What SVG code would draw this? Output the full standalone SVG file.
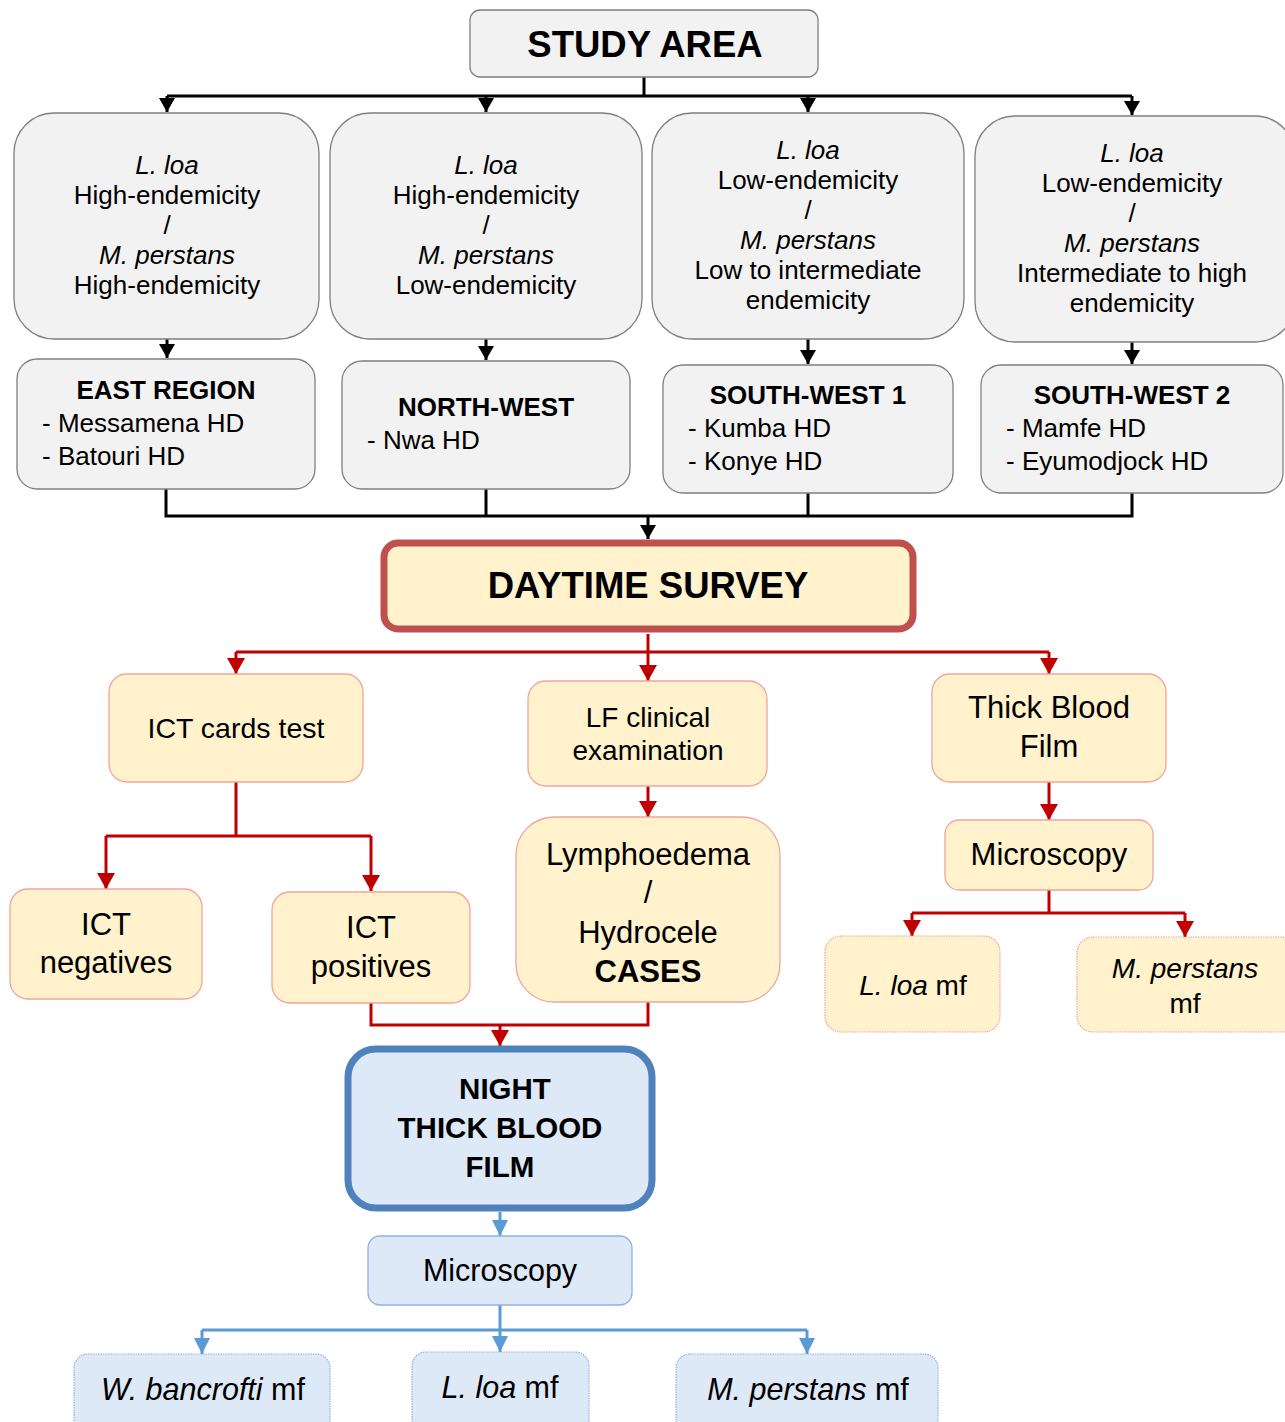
<svg xmlns="http://www.w3.org/2000/svg" width="1285" height="1422" viewBox="0 0 1285 1422">
<defs>
<style>
text{font-family:"Liberation Sans",Arial,sans-serif;fill:#000;text-anchor:middle}
.b{font-weight:bold}
.i{font-style:italic}
.l{text-anchor:start}
.gray{fill:#f2f2f2;stroke:#7f7f7f;stroke-width:1.3}
.yel{fill:#fff2cc;stroke:#f2a49c;stroke-width:1.3}
.yeld{fill:#fff2cc;stroke:#f2a49c;stroke-width:1.2;stroke-dasharray:1.5 1}
.blu{fill:#dde9f6;stroke:#8db3e2;stroke-width:1.3}
.blud{fill:#dde9f6;stroke:#8db3e2;stroke-width:1.2;stroke-dasharray:1.5 1}
.ck{fill:none;stroke:#000;stroke-width:3}
.cr{fill:none;stroke:#c00000;stroke-width:3}
.cb{fill:none;stroke:#5b9bd5;stroke-width:3}
</style>
<marker id="ak" markerUnits="userSpaceOnUse" markerWidth="14" markerHeight="16" viewBox="0 0 14 16" refX="14" refY="8" orient="auto"><path d="M0,0L14,8L0,16z" fill="#000"/></marker>
<marker id="ar" markerUnits="userSpaceOnUse" markerWidth="16" markerHeight="18" viewBox="0 0 16 18" refX="16" refY="9" orient="auto"><path d="M0,0L16,9L0,18z" fill="#c00000"/></marker>
<marker id="ab" markerUnits="userSpaceOnUse" markerWidth="16" markerHeight="16" viewBox="0 0 16 16" refX="16" refY="8" orient="auto"><path d="M0,0L16,8L0,16z" fill="#5b9bd5"/></marker>
</defs>
<rect width="1285" height="1422" fill="#fff"/>

<g id="connectors">
<path class="ck" d="M644,77V96"/>
<path class="ck" d="M167,96H1132"/>
<path class="ck" d="M167,96V112" marker-end="url(#ak)"/>
<path class="ck" d="M486,96V112" marker-end="url(#ak)"/>
<path class="ck" d="M808,96V112" marker-end="url(#ak)"/>
<path class="ck" d="M1132,96V115" marker-end="url(#ak)"/>
<path class="ck" d="M167,339V358" marker-end="url(#ak)"/>
<path class="ck" d="M486,339V360" marker-end="url(#ak)"/>
<path class="ck" d="M808,339V364" marker-end="url(#ak)"/>
<path class="ck" d="M1132,342V364" marker-end="url(#ak)"/>
<path class="ck" d="M166,489V516H1132V493M486,489V516M808,493V516"/>
<path class="ck" d="M648,516V539" marker-end="url(#ak)"/>

<path class="cr" d="M648,634V652"/>
<path class="cr" d="M236,652H1049"/>
<path class="cr" d="M236,652V674" marker-end="url(#ar)"/>
<path class="cr" d="M648,652V681" marker-end="url(#ar)"/>
<path class="cr" d="M1049,652V674" marker-end="url(#ar)"/>
<path class="cr" d="M236,782V836M106,836H371"/>
<path class="cr" d="M106,836V889" marker-end="url(#ar)"/>
<path class="cr" d="M371,836V891" marker-end="url(#ar)"/>
<path class="cr" d="M648,786V817" marker-end="url(#ar)"/>
<path class="cr" d="M1049,782V820" marker-end="url(#ar)"/>
<path class="cr" d="M1049,890V913M912,913H1185"/>
<path class="cr" d="M912,913V936" marker-end="url(#ar)"/>
<path class="cr" d="M1185,913V937" marker-end="url(#ar)"/>
<path class="cr" d="M371,1003V1025H648V1002"/>
<path class="cr" d="M500,1025V1046" marker-end="url(#ar)"/>

<path class="cb" d="M500,1212V1236" marker-end="url(#ab)"/>
<path class="cb" d="M500,1305V1330M202,1330H807"/>
<path class="cb" d="M202,1330V1354" marker-end="url(#ab)"/>
<path class="cb" d="M500,1330V1352" marker-end="url(#ab)"/>
<path class="cb" d="M807,1330V1354" marker-end="url(#ab)"/>
</g>

<g id="study-area">
<rect class="gray" x="470" y="10" width="348" height="67" rx="10"/>
<text class="b" x="645" y="57" font-size="36.5">STUDY AREA</text>
</g>

<g id="area1">
<rect class="gray" x="14" y="113" width="305" height="226" rx="40"/>
<text x="167" font-size="26"><tspan class="i" x="167" y="174">L. loa</tspan><tspan x="167" y="204">High-endemicity</tspan><tspan x="167" y="234">/</tspan><tspan class="i" x="167" y="264">M. perstans</tspan><tspan x="167" y="294">High-endemicity</tspan></text>
</g>
<g id="area2">
<rect class="gray" x="330" y="113" width="312" height="226" rx="40"/>
<text x="486" font-size="26"><tspan class="i" x="486" y="174">L. loa</tspan><tspan x="486" y="204">High-endemicity</tspan><tspan x="486" y="234">/</tspan><tspan class="i" x="486" y="264">M. perstans</tspan><tspan x="486" y="294">Low-endemicity</tspan></text>
</g>
<g id="area3">
<rect class="gray" x="652" y="113" width="312" height="226" rx="40"/>
<text x="808" font-size="26"><tspan class="i" x="808" y="159">L. loa</tspan><tspan x="808" y="189">Low-endemicity</tspan><tspan x="808" y="219">/</tspan><tspan class="i" x="808" y="249">M. perstans</tspan><tspan x="808" y="279">Low to intermediate</tspan><tspan x="808" y="309">endemicity</tspan></text>
</g>
<g id="area4">
<rect class="gray" x="975" y="116" width="320" height="226" rx="40"/>
<text x="1132" font-size="26"><tspan class="i" x="1132" y="162">L. loa</tspan><tspan x="1132" y="192">Low-endemicity</tspan><tspan x="1132" y="222">/</tspan><tspan class="i" x="1132" y="252">M. perstans</tspan><tspan x="1132" y="282">Intermediate to high</tspan><tspan x="1132" y="312">endemicity</tspan></text>
</g>

<g id="east-region">
<rect class="gray" x="17" y="359" width="298" height="130" rx="20"/>
<text class="b" x="166" y="399" font-size="26">EAST REGION</text>
<text class="l" x="42" y="432" font-size="26">- Messamena HD</text>
<text class="l" x="42" y="465" font-size="26">- Batouri HD</text>
</g>
<g id="north-west">
<rect class="gray" x="342" y="361" width="288" height="128" rx="20"/>
<text class="b" x="486" y="416" font-size="26">NORTH-WEST</text>
<text class="l" x="367" y="449" font-size="26">- Nwa HD</text>
</g>
<g id="south-west-1">
<rect class="gray" x="663" y="365" width="290" height="128" rx="20"/>
<text class="b" x="808" y="404" font-size="26">SOUTH-WEST 1</text>
<text class="l" x="688" y="437" font-size="26">- Kumba HD</text>
<text class="l" x="688" y="470" font-size="26">- Konye HD</text>
</g>
<g id="south-west-2">
<rect class="gray" x="981" y="365" width="302" height="128" rx="20"/>
<text class="b" x="1132" y="404" font-size="26">SOUTH-WEST 2</text>
<text class="l" x="1006" y="437" font-size="26">- Mamfe HD</text>
<text class="l" x="1006" y="470" font-size="26">- Eyumodjock HD</text>
</g>

<g id="daytime-survey">
<rect x="384" y="543" width="529" height="86" rx="14" fill="#fff2cc" stroke="#c0504d" stroke-width="7"/>
<text class="b" x="648" y="598" font-size="36.5">DAYTIME SURVEY</text>
</g>

<g id="ict-cards">
<rect class="yel" x="109" y="674" width="254" height="108" rx="18"/>
<text x="236" y="738" font-size="28.5">ICT cards test</text>
</g>
<g id="lf-clinical">
<rect class="yel" x="528" y="681" width="239" height="105" rx="18"/>
<text x="648" font-size="28"><tspan x="648" y="727">LF clinical</tspan><tspan x="648" y="760">examination</tspan></text>
</g>
<g id="thick-blood-film">
<rect class="yel" x="932" y="674" width="234" height="108" rx="18"/>
<text x="1049" font-size="31"><tspan x="1049" y="718">Thick Blood</tspan><tspan x="1049" y="757">Film</tspan></text>
</g>
<g id="ict-negatives">
<rect class="yel" x="10" y="889" width="192" height="110" rx="18"/>
<text x="106" font-size="31"><tspan x="106" y="935">ICT</tspan><tspan x="106" y="973">negatives</tspan></text>
</g>
<g id="ict-positives">
<rect class="yel" x="272" y="892" width="198" height="111" rx="18"/>
<text x="371" font-size="31"><tspan x="371" y="938">ICT</tspan><tspan x="371" y="977">positives</tspan></text>
</g>
<g id="lymphoedema">
<rect class="yel" x="516" y="817" width="264" height="185" rx="38"/>
<text x="648" font-size="31"><tspan x="648" y="865">Lymphoedema</tspan><tspan x="648" y="903">/</tspan><tspan x="648" y="943">Hydrocele</tspan><tspan class="b" x="648" y="982">CASES</tspan></text>
</g>
<g id="microscopy-day">
<rect class="yel" x="945" y="820" width="208" height="70" rx="14"/>
<text x="1049" y="865" font-size="31">Microscopy</text>
</g>
<g id="lloa-day">
<rect class="yeld" x="825" y="936" width="175" height="96" rx="16"/>
<text x="913" y="995" font-size="28"><tspan class="i">L. loa</tspan> mf</text>
</g>
<g id="mperstans-day">
<rect class="yeld" x="1077" y="937" width="220" height="95" rx="16"/>
<text x="1185" font-size="28"><tspan class="i" x="1185" y="978">M. perstans</tspan><tspan x="1185" y="1013">mf</tspan></text>
</g>

<g id="night-tbf">
<rect x="348" y="1049" width="304" height="159" rx="28" fill="#dde9f6" stroke="#4f81bd" stroke-width="7"/>
<text class="b" x="500" font-size="29.5"><tspan x="505" y="1099">NIGHT</tspan><tspan x="500" y="1138">THICK BLOOD</tspan><tspan x="500" y="1177">FILM</tspan></text>
</g>
<g id="microscopy-night">
<rect class="blu" x="368" y="1236" width="264" height="69" rx="12"/>
<text x="500" y="1281" font-size="30.5">Microscopy</text>
</g>
<g id="wbancrofti">
<rect class="blud" x="74" y="1354" width="256" height="80" rx="14"/>
<text x="203" y="1400" font-size="30.5"><tspan class="i">W. bancrofti</tspan> mf</text>
</g>
<g id="lloa-night">
<rect class="blud" x="412" y="1352" width="177" height="82" rx="14"/>
<text x="500" y="1398" font-size="30.5"><tspan class="i">L. loa</tspan> mf</text>
</g>
<g id="mperstans-night">
<rect class="blud" x="676" y="1354" width="262" height="80" rx="14"/>
<text x="808" y="1400" font-size="30.5"><tspan class="i">M. perstans</tspan> mf</text>
</g>
</svg>
